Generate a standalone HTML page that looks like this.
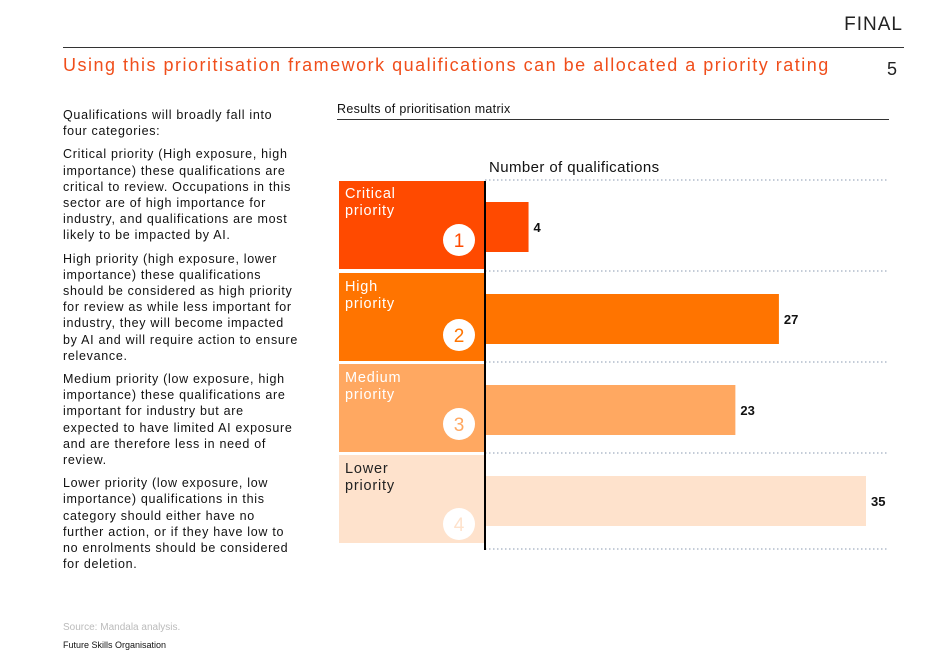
<!DOCTYPE html>
<html><head><meta charset="utf-8"><style>
body{margin:0;width:936px;height:662px;background:#fff;font-family:"Liberation Sans",sans-serif;position:relative;overflow:hidden}
.a{position:absolute}
.p{font-size:12.5px;line-height:16.2px;color:#111;margin:0 0 7px 0;white-space:nowrap;letter-spacing:0.7px}
</style></head><body>
<div class="a" style="right:33px;top:14px;font-size:19px;color:#222;letter-spacing:1px">FINAL</div>
<div class="a" style="left:63px;top:47px;width:841px;height:1px;background:#333"></div>
<div class="a" style="left:63px;top:55px;font-size:18px;color:#f04e1b;letter-spacing:1.5px">Using this prioritisation framework qualifications can be allocated a priority rating</div>
<div class="a" style="left:887px;top:59px;font-size:18px;color:#222">5</div>
<div class="a" style="left:63px;top:107px;width:245px">
<p class="p">Qualifications will broadly fall into<br>four categories:</p>
<p class="p">Critical priority (High exposure, high<br>importance) these qualifications are<br>critical to review. Occupations in this<br>sector are of high importance for<br>industry, and qualifications are most<br>likely to be impacted by AI.</p>
<p class="p">High priority (high exposure, lower<br>importance) these qualifications<br>should be considered as high priority<br>for review as while less important for<br>industry, they will become impacted<br>by AI and will require action to ensure<br>relevance.</p>
<p class="p">Medium priority (low exposure, high<br>importance) these qualifications are<br>important for industry but are<br>expected to have limited AI exposure<br>and are therefore less in need of<br>review.</p>
<p class="p">Lower priority (low exposure, low<br>importance) qualifications in this<br>category should either have no<br>further action, or if they have low to<br>no enrolments should be considered<br>for deletion.</p>
</div>
<div class="a" style="left:63px;top:622px;font-size:10px;color:#bbb">Source: Mandala analysis.</div>
<div class="a" style="left:63px;top:640px;font-size:9px;color:#111">Future Skills Organisation</div>
<div class="a" style="left:337px;top:102px;font-size:12.5px;color:#111;letter-spacing:0.3px">Results of prioritisation matrix</div>
<div class="a" style="left:337px;top:119px;width:552px;height:1px;background:#333"></div>
<svg class="a" style="left:0;top:0" width="936" height="662" id="chart"></svg>
<script>
const categories=["Critical priority","High priority","Medium priority","Lower priority"];
const values=[4,27,23,35];
const ranks=["1","2","3","4"];
const colors=["#ff4a00","#ff7400","#ffa861","#fee2cc"];
const svg=document.getElementById('chart');
const NS="http://www.w3.org/2000/svg";
const x0=485,x1=866,vmax=35;
const xs=v=>x0+(x1-x0)*v/vmax;
const top0=181,band=91;
function el(t,a){const e=document.createElementNS(NS,t);for(const k in a)e.setAttribute(k,a[k]);svg.appendChild(e);return e;}
const ax=el('text',{x:489,y:172,'font-size':15,fill:'#111','font-family':'Liberation Sans, sans-serif','letter-spacing':'0.4'});
ax.textContent="Number of qualifications";


for(let i=0;i<=categories.length;i++){
 const y=top0+band*i-(i==4?-4:1);
 const g=el('line',{x1:485,x2:888,y1:y,y2:y,stroke:'#8a9ab0','stroke-width':1,'stroke-dasharray':'1.5,2.5'});
 
 
}
categories.forEach((c,i)=>{
 const yb=top0+band*i;
 const box=el('rect',{x:339,y:yb+(i?1:0),width:145,height:band-3,fill:colors[i]});
 
 
 const words=c.split(' ');
 words.forEach((w,j)=>{
  const t=el('text',{x:345,y:yb+17+j*17+(i?2:0),'font-size':14.5,fill:i==3?'#222':'#fff','font-family':'Liberation Sans, sans-serif','letter-spacing':'0.8'});
  t.textContent=w;
  
  
 });
 const cy=yb+[59,63,61,70][i];
 const ci=el('circle',{cx:459,cy:cy,r:16,fill:'#fff'});
 
 
 const rt=el('text',{x:459,y:cy+7,'font-size':19,'text-anchor':'middle',fill:colors[i],'font-family':'Liberation Sans, sans-serif'});
 rt.textContent=ranks[i];
 
 
 const by=yb+21+(i?1:0);
 const bar=el('rect',{x:x0,y:by,width:xs(values[i])-x0,height:50,fill:colors[i]});
 
 
 const vt=el('text',{x:xs(values[i])+5,y:by+30,'font-size':13,'font-weight':'bold',fill:'#111','font-family':'Liberation Sans, sans-serif'});
 vt.textContent=values[i];
 
 
});
const axis=el('line',{x1:485,x2:485,y1:181,y2:550,stroke:'#000','stroke-width':2});


</script>
</body></html>
